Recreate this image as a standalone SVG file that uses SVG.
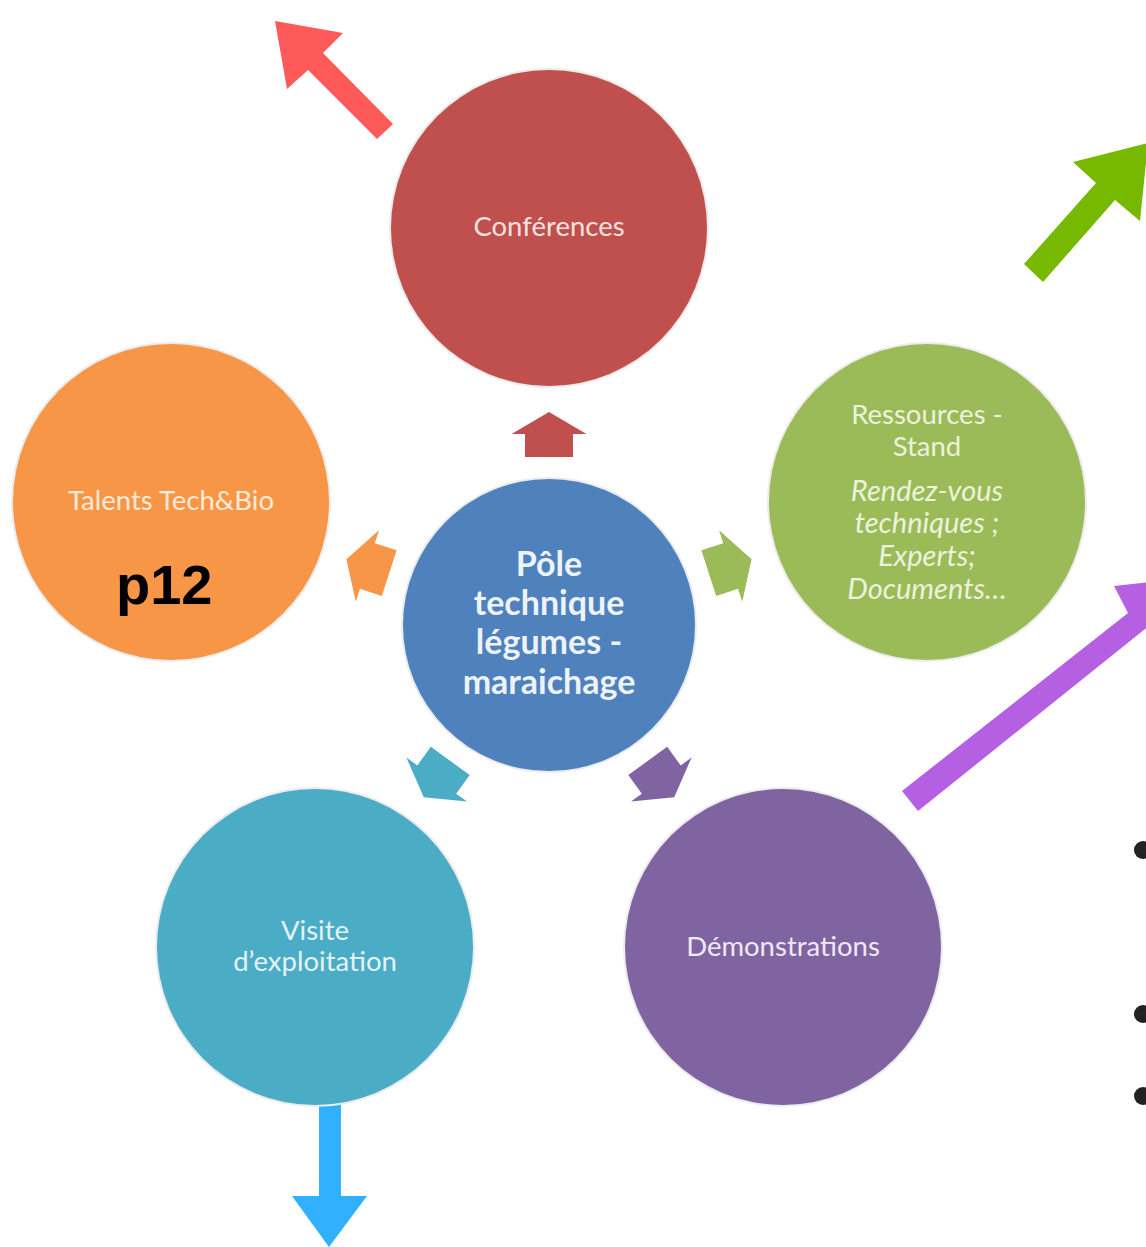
<svg xmlns="http://www.w3.org/2000/svg" width="1146" height="1247" viewBox="0 0 1146 1247">
<defs>
<style>
.halo{fill:#ececec}
.lbl{font-family:Lato,"Open Sans","Liberation Sans",sans-serif;font-size:27.5px;text-anchor:middle}
.it{font-style:italic;font-size:29px}
.ctr{font-family:Lato,"Open Sans","Liberation Sans",sans-serif;font-size:34px;font-weight:bold;text-anchor:middle;fill:#EEF3FA}
</style>
<path id="sarrow" d="M -24,-168 L -24,-191 L -37.5,-191 L 0,-213 L 37.5,-191 L 24,-191 L 24,-168 Z"/>
</defs>
<rect width="1146" height="1247" fill="#ffffff"/>

<g id="connectors">
<use href="#sarrow" fill="#C0504D" transform="translate(549,625) rotate(0)"/>
<use href="#sarrow" fill="#9BBB59" transform="translate(549,625) rotate(72)"/>
<use href="#sarrow" fill="#8064A2" transform="translate(549,625) rotate(144)"/>
<use href="#sarrow" fill="#4BACC6" transform="translate(549,625) rotate(216)"/>
<use href="#sarrow" fill="#F79646" transform="translate(549,625) rotate(288)"/>
<polygon fill="#FF5A5A" points="275,21 343,33 323,53 393,124 377,139 308,70 287,89"/>
<polygon fill="#76B900" points="1148,143 1140,221 1115,200 1043,282 1024,264 1096,183 1073,162"/>
<polygon fill="#B55FE3" points="902,791 1128,613 1114,586 1185,578 1160,650 1150,625 918,811"/>
<polygon fill="#30B0FF" points="319,1100 341,1100 341,1196 367,1196 329,1247 292,1196 319,1196"/>
</g>

<g id="node-conferences">
<circle class="halo" cx="549" cy="228" r="160"/>
<circle cx="549" cy="228" r="158" fill="#C0504D"/>
<text class="lbl" x="549" y="236" fill="#F4E2E1">Conférences</text>
</g>

<g id="node-talents">
<circle class="halo" cx="171" cy="502" r="160"/>
<circle cx="171" cy="502" r="158" fill="#F79646"/>
<text class="lbl" x="171" y="510" fill="#FDEADA">Talents Tech&amp;Bio</text>
<text x="116" y="604" font-family="'Liberation Sans',Arial,sans-serif" font-size="56" font-weight="bold" fill="#000000">p12</text>
</g>

<g id="node-ressources">
<circle class="halo" cx="927" cy="502" r="160"/>
<circle cx="927" cy="502" r="158" fill="#9BBB59"/>
<g class="lbl" fill="#EBF2DD">
<text x="927" y="424">Ressources -</text>
<text x="927" y="456">Stand</text>
<text class="it" x="927" y="501">Rendez-vous</text>
<text class="it" x="927" y="533">techniques ;</text>
<text class="it" x="927" y="566">Experts;</text>
<text class="it" x="927" y="599">Documents…</text>
</g>
</g>

<g id="node-pole">
<circle class="halo" cx="549" cy="625" r="148"/>
<circle cx="549" cy="625" r="146" fill="#4F81BD"/>
<text class="ctr" x="549" y="576">Pôle</text>
<text class="ctr" x="549" y="615">technique</text>
<text class="ctr" x="549" y="654">légumes -</text>
<text class="ctr" x="549" y="694">maraichage</text>
</g>

<g id="node-visite">
<circle class="halo" cx="315" cy="947" r="160"/>
<circle cx="315" cy="947" r="158" fill="#4BACC6"/>
<text class="lbl" x="315" y="940" fill="#E3F3F8">Visite</text>
<text class="lbl" x="315" y="971" fill="#E3F3F8">d’exploitation</text>
</g>

<g id="node-demonstrations">
<circle class="halo" cx="783" cy="947" r="160"/>
<circle cx="783" cy="947" r="158" fill="#8064A2"/>
<text class="lbl" x="783" y="956" fill="#EEE9F4">Démonstrations</text>
</g>

<g id="bullets" fill="#222222">
<circle cx="1143" cy="850" r="9"/>
<circle cx="1143" cy="1014" r="9"/>
<circle cx="1143" cy="1096" r="9"/>
</g>
</svg>
